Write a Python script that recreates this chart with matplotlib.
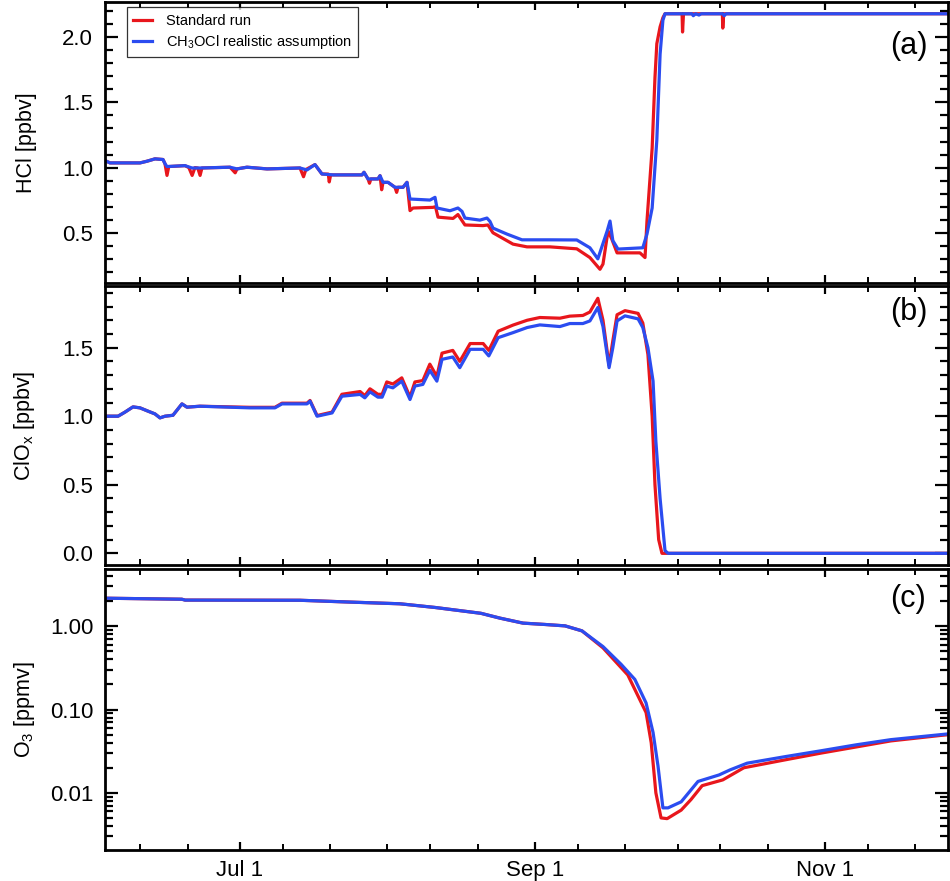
import datetime
import numpy as np
import matplotlib
matplotlib.use('Agg')
import matplotlib.pyplot as plt
import matplotlib.dates as mdates
from matplotlib.ticker import MultipleLocator, LogLocator, FuncFormatter, NullFormatter

plt.rcParams['font.family'] = ['Liberation Sans', 'DejaVu Sans']
plt.rcParams['mathtext.default'] = 'regular'

# days since Jun 1 and values
hcl_std_days = [1.61, 2.67, 8.97, 10.45, 12.12, 13.81, 14.23, 14.65, 15.02, 18.43, 19.25, 19.94, 20.53, 21.12,
                21.61, 22.0, 27.9, 28.99, 29.38, 31.47, 35.68, 42.62, 43.36, 43.85, 45.77, 47.24, 48.57, 48.77,
                49.06, 55.66, 56.08, 56.92, 57.23, 57.53, 59.02, 59.45, 59.79, 60.08, 61.13, 62.59, 62.94, 63.23,
                64.28, 65.12, 65.75, 66.38, 70.58, 71.11, 71.64, 74.8, 75.83, 77.3, 81.1, 82.13, 83.2, 87.41,
                90.35, 95.18, 100.82, 103.58, 105.7, 106.33, 107.39, 108.2, 109.29, 114.11, 115.17, 115.58,
                116.67, 117.26, 117.65, 118.34, 118.93, 119.37, 122.96, 123.06, 123.26, 131.43, 131.52, 131.72,
                178.9]
hcl_std = [1.054, 1.036, 1.036, 1.049, 1.067, 1.062, 1.03, 0.94, 1.008, 1.015, 1.0, 0.94, 1.0, 0.997,
           0.94, 0.997, 1.003, 0.96, 0.990, 1.003, 0.990, 0.997, 0.93, 0.985, 1.023, 0.951, 0.95, 0.89,
           0.944, 0.944, 0.964, 0.913, 0.88, 0.913, 0.913, 0.938, 0.83, 0.887, 0.887, 0.849, 0.81, 0.849,
           0.849, 0.887, 0.67, 0.69, 0.695, 0.70, 0.62, 0.61, 0.64, 0.56, 0.555, 0.56, 0.50, 0.413,
           0.392, 0.392, 0.377, 0.31, 0.22, 0.26, 0.515, 0.45, 0.346, 0.346, 0.31, 0.59,
           1.15, 1.69, 1.95, 2.08, 2.15, 2.18, 2.18, 2.04, 2.18, 2.18, 2.07, 2.18,
           2.18]

hcl_ch3ocl_days = [1.61, 2.67, 8.97, 10.45, 12.12, 13.81, 14.23, 14.65, 18.43, 19.91, 21.59, 27.9, 29.37, 31.47,
                   35.68, 42.62, 44.09, 45.77, 47.24, 49.56, 55.66, 56.08, 56.92, 59.02, 59.45, 60.08, 61.13, 62.59,
                   64.28, 65.12, 65.75, 69.95, 71.01, 71.43, 74.16, 75.83, 76.69, 77.3, 80.45, 81.93, 82.57, 83.2,
                   86.14, 89.3, 95.18, 100.82, 103.58, 105.25, 107.22, 107.81, 108.4, 109.48, 114.7, 115.58, 116.67,
                   117.65, 118.34, 118.93, 119.37, 125.03, 125.32, 125.82, 126.51, 127.0, 131.52, 131.82, 132.21,
                   178.9]
hcl_ch3ocl = [1.054, 1.036, 1.036, 1.049, 1.067, 1.062, 1.03, 1.008, 1.015, 0.997, 0.997, 1.003, 0.990, 1.003,
              0.990, 0.997, 0.982, 1.023, 0.951, 0.944, 0.944, 0.964, 0.913, 0.913, 0.938, 0.887, 0.887, 0.849,
              0.849, 0.887, 0.759, 0.751, 0.772, 0.69, 0.669, 0.69, 0.664, 0.613, 0.597, 0.613, 0.587, 0.536,
              0.49, 0.446, 0.446, 0.445, 0.385, 0.30, 0.515, 0.59, 0.44, 0.375, 0.385, 0.49, 0.69,
              1.21, 1.87, 2.13, 2.18, 2.18, 2.165, 2.18, 2.17, 2.18, 2.18, 2.165, 2.18,
              2.18]

clox_ch3ocl_days = [1.61, 4.35, 5.82, 7.5, 8.97, 10.66, 12.12, 13.18, 14.23, 15.9, 17.8, 18.85, 21.59, 32.1, 37.35,
                    38.83, 44.09, 44.73, 46.21, 49.36, 51.43, 55.26, 56.25, 57.33, 59.0, 59.89, 60.87, 62.15, 64.02,
                    65.75, 66.78, 68.45, 69.92, 71.4, 72.48, 74.75, 76.22, 78.39, 81.14, 82.32, 84.29, 87.44, 90.39,
                    93.05, 97.28, 99.35, 102.1, 103.58, 105.25, 106.33, 107.61, 108.4, 109.29, 110.96, 113.71,
                    114.7, 115.78, 116.86, 117.45, 118.34, 119.37, 120.01, 178.9]
clox_ch3ocl = [1.0, 1.0, 1.03, 1.068, 1.061, 1.037, 1.017, 0.988, 1.0, 1.007, 1.09, 1.066, 1.073, 1.061, 1.061,
               1.09, 1.09, 1.11, 1.0, 1.024, 1.146, 1.159, 1.134, 1.178, 1.139, 1.139, 1.22, 1.207, 1.256,
               1.122, 1.22, 1.232, 1.335, 1.256, 1.415, 1.432, 1.354, 1.488, 1.488, 1.44, 1.573, 1.61, 1.647,
               1.666, 1.654, 1.676, 1.676, 1.695, 1.793, 1.654, 1.354, 1.5, 1.695, 1.732, 1.71,
               1.647, 1.5, 1.256, 0.817, 0.4, 0.02, 0.0, 0.0]

clox_std_days = [1.61, 4.35, 5.82, 7.5, 8.97, 10.66, 12.12, 13.18, 14.23, 15.9, 17.8, 18.85, 21.59, 32.1, 37.35,
                 38.83, 44.09, 44.73, 46.21, 49.36, 51.43, 55.26, 56.25, 57.33, 59.0, 59.89, 60.87, 62.15, 64.02,
                 65.75, 66.78, 68.45, 69.92, 71.4, 72.48, 74.75, 76.22, 78.39, 81.14, 82.32, 84.29, 87.44, 90.39,
                 93.05, 97.28, 99.35, 102.1, 103.58, 105.25, 106.33, 107.61, 108.4, 109.29, 110.96, 113.71,
                 114.7, 115.78, 116.67, 117.26, 118.04, 118.73, 178.9]
clox_std = [1.0, 1.0, 1.03, 1.068, 1.061, 1.037, 1.017, 0.988, 1.0, 1.007, 1.09, 1.066, 1.073, 1.065, 1.065,
            1.095, 1.095, 1.115, 1.005, 1.03, 1.16, 1.18, 1.15, 1.20, 1.16, 1.16, 1.25, 1.235, 1.28,
            1.14, 1.25, 1.26, 1.38, 1.29, 1.46, 1.48, 1.40, 1.53, 1.53, 1.48, 1.62, 1.665, 1.70,
            1.72, 1.715, 1.73, 1.735, 1.76, 1.86, 1.70, 1.37, 1.55, 1.74, 1.77, 1.75,
            1.68, 1.45, 1.0, 0.5, 0.1, 0.0, 0.0]

o3_ch3ocl_days = [1.61, 17.77, 18.46, 42.62, 53.1, 63.63, 71.01, 80.65, 84.69, 89.51, 94.13, 98.36, 101.91, 106.33,
                  110.12, 113.03, 115.39, 116.86, 117.9, 118.93, 120.01, 122.77, 126.31, 130.74, 133.0, 136.64,
                  144.81, 152.19, 159.57, 166.85, 178.9]
o3_ch3ocl = [2.17, 2.11, 2.06, 2.05, 1.95, 1.86, 1.68, 1.43, 1.25, 1.09, 1.05, 1.01, 0.88, 0.57,
             0.35, 0.23, 0.12, 0.053, 0.021, 0.0066, 0.0066, 0.0078, 0.0137, 0.0164, 0.0188, 0.0227,
             0.0273, 0.032, 0.0377, 0.0435, 0.051]

o3_std_days = [1.61, 17.77, 18.46, 42.62, 53.1, 63.63, 71.01, 80.65, 84.69, 89.51, 94.13, 98.36, 101.91, 106.33,
               111.55, 115.39, 116.47, 117.45, 118.54, 119.82, 122.77, 124.83, 127.19, 131.52, 135.95, 144.81,
               152.19, 166.85, 178.9]
o3_std = [2.17, 2.11, 2.06, 2.05, 1.95, 1.86, 1.68, 1.43, 1.25, 1.09, 1.05, 1.01, 0.88, 0.55,
          0.26, 0.092, 0.04, 0.01, 0.005, 0.0049, 0.0062, 0.0083, 0.0122, 0.0143, 0.020, 0.025,
          0.030, 0.042, 0.050]

RED = '#e8161c'
BLUE = '#2b4cf0'
t0 = mdates.date2num(datetime.datetime(2003, 6, 1))


def to_dates(days):
    return t0 + np.asarray(days)


fig = plt.figure(figsize=(9.5, 8.81), dpi=100)
left, width = 0.1105, 0.8875
ax_a = fig.add_axes([left, 0.6788, width, 0.3189])
ax_b = fig.add_axes([left, 0.3587, width, 0.3167])
ax_c = fig.add_axes([left, 0.0352, width, 0.3189])

lw = 2.3
ax_a.plot(to_dates(hcl_std_days), hcl_std, color=RED, lw=lw, label='Standard run')
ax_a.plot(to_dates(hcl_ch3ocl_days), hcl_ch3ocl, color=BLUE, lw=lw, label='CH$_3$OCl realistic assumption')
ax_b.plot(to_dates(clox_std_days), clox_std, color=RED, lw=lw)
ax_b.plot(to_dates(clox_ch3ocl_days), clox_ch3ocl, color=BLUE, lw=lw)
ax_c.plot(to_dates(o3_std_days), o3_std, color=RED, lw=lw)
ax_c.plot(to_dates(o3_ch3ocl_days), o3_ch3ocl, color=BLUE, lw=lw)

ax_a.set_ylim(0.115, 2.27)
ax_b.set_ylim(-0.085, 1.95)
ax_c.set_yscale('log')
ax_c.set_ylim(0.00206, 4.86)

ax_a.yaxis.set_major_locator(MultipleLocator(0.5))
ax_a.yaxis.set_minor_locator(MultipleLocator(0.1))
ax_b.yaxis.set_major_locator(MultipleLocator(0.5))
ax_b.yaxis.set_minor_locator(MultipleLocator(0.1))
for ax in (ax_a, ax_b):
    ax.yaxis.set_major_formatter(FuncFormatter(lambda v, p: f'{v:.1f}'))
ax_c.yaxis.set_major_locator(LogLocator(base=10, numticks=10))
ax_c.yaxis.set_minor_locator(LogLocator(base=10, subs=np.arange(2, 10), numticks=20))
ax_c.yaxis.set_major_formatter(FuncFormatter(lambda v, p: f'{v:.2f}'))
ax_c.yaxis.set_minor_formatter(NullFormatter())


def date_label(x, pos):
    d = mdates.num2date(x)
    return f'{d:%b} {d.day}'


for ax in (ax_a, ax_b, ax_c):
    ax.set_xlim(t0 + 1.61, t0 + 178.9)
    ax.xaxis.set_major_locator(mdates.MonthLocator(bymonth=[7, 9, 11]))
    ax.xaxis.set_minor_locator(mdates.DayLocator(bymonthday=[1, 10, 20]))
    ax.xaxis.set_major_formatter(FuncFormatter(date_label))
    ax.tick_params(which='both', direction='in', top=True, right=True, labelsize=16)
    ax.tick_params(axis='y', which='major', length=9.5, width=1.6, pad=8.5)
    ax.tick_params(axis='y', which='minor', length=5.5, width=1.6)
    ax.tick_params(axis='x', which='major', length=6, width=1.6, pad=7)
    ax.tick_params(axis='x', which='minor', length=4, width=1.4)
    for s in ax.spines.values():
        s.set_linewidth(2.0)
    ax.yaxis.set_label_coords(-0.081, 0.5)

ax_a.tick_params(axis='x', labelbottom=False)
ax_b.tick_params(axis='x', labelbottom=False)

ax_a.set_ylabel('HCl [ppbv]', fontsize=15.5)
ax_b.set_ylabel('ClO$_x$ [ppbv]', fontsize=15.5)
ax_c.set_ylabel('O$_3$ [ppmv]', fontsize=15.5)

ax_a.text(0.953, 0.845, '(a)', transform=ax_a.transAxes, fontsize=22, ha='center', va='center')
ax_b.text(0.953, 0.905, '(b)', transform=ax_b.transAxes, fontsize=22, ha='center', va='center')
ax_c.text(0.953, 0.895, '(c)', transform=ax_c.transAxes, fontsize=22, ha='center', va='center')

leg = ax_a.legend(loc='upper left', bbox_to_anchor=(0.026, 0.982), fontsize=10.5, frameon=True,
                  fancybox=False, edgecolor='black', handlelength=1.3, handletextpad=0.9,
                  borderpad=0.45, labelspacing=0.35, borderaxespad=0)
leg.get_frame().set_linewidth(0.9)

fig.savefig('out.png', dpi=100)
